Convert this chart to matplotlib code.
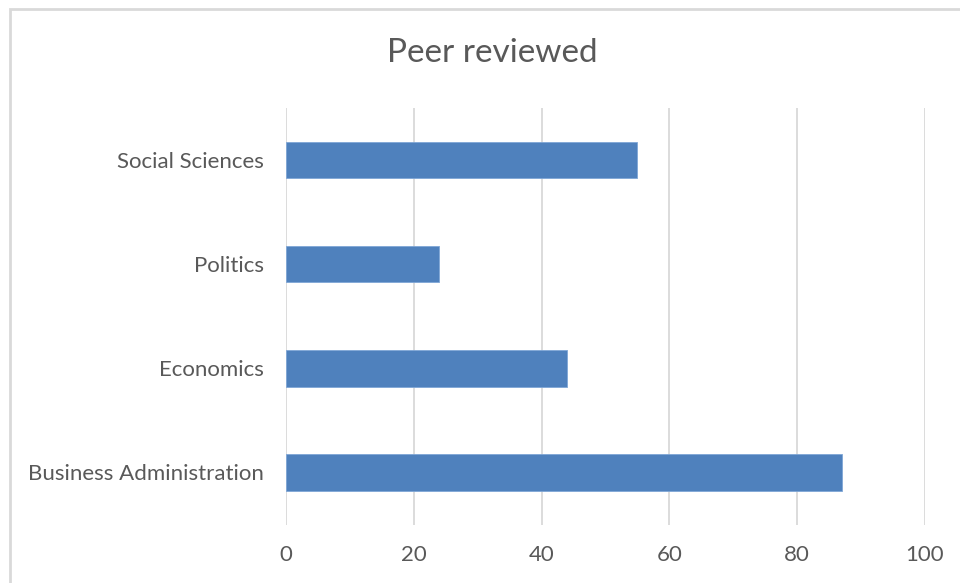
import matplotlib
matplotlib.use("Agg")
from matplotlib import pyplot as plt
from matplotlib.patches import Rectangle

# dados
categories = ["Business Administration", "Economics", "Politics", "Social Sciences"]
values = [87, 44, 24, 55]
ticks = [0, 20, 40, 60, 80, 100]

plt.rcParams['font.family'] = ['Lato', 'DejaVu Sans']
text_color = '#595959'
grid_color = '#d9d9d9'

fig = plt.figure(figsize=(9.6, 5.83), dpi=100)
ax = fig.add_axes([286/960, 1 - 524.5/583, (925 - 286)/960, (524.5 - 108)/583])

ax.barh(range(len(categories)), values, height=0.35, color='#4f81bd',
        edgecolor='#7fa6d6', linewidth=0.6, zorder=3)

ax.set_xlim(0, 100)
ax.set_ylim(-0.5, len(categories) - 0.5)
ax.set_xticks(ticks)
ax.set_xticklabels([str(t) for t in ticks], fontsize=16, color=text_color)
ax.set_yticks(range(len(categories)))
ax.set_yticklabels(categories, fontsize=16, color=text_color)
ax.tick_params(axis='both', length=0)
ax.tick_params(axis='y', pad=16)
ax.tick_params(axis='x', pad=15)
ax.xaxis.grid(True, color=grid_color, linewidth=1.3, zorder=0)
for s in ax.spines.values():
    s.set_visible(False)

# borda do gráfico
fig.patches.append(Rectangle((10/960, -0.1), 1.1, 1 - 9/583 + 0.1, transform=fig.transFigure,
                             fill=False, edgecolor=grid_color, linewidth=2, zorder=0))

fig.text(492/960, 1 - 53/583, "Peer reviewed", ha='center', va='center',
         fontsize=24, color=text_color)

fig.savefig("out.png", dpi=100, facecolor='white')
